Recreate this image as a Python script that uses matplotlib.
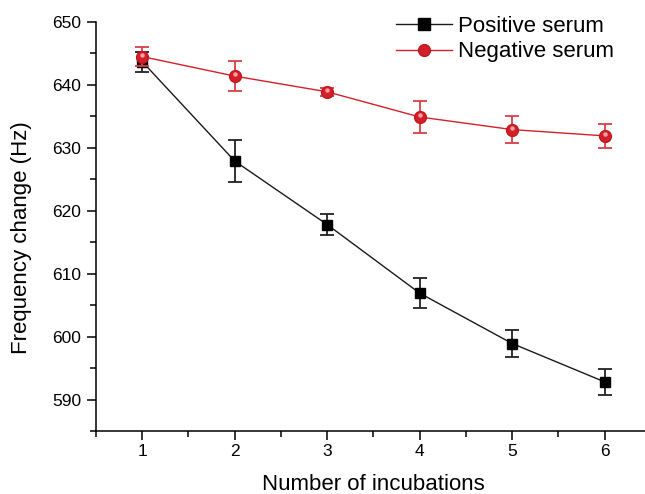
import matplotlib.pyplot as plt
from matplotlib.lines import Line2D
from matplotlib.ticker import MultipleLocator

plt.rcParams['font.family'] = ['Liberation Sans', 'DejaVu Sans']

incubations = [1, 2, 3, 4, 5, 6]
positive = [643.7, 627.9, 617.8, 606.9, 598.9, 592.8]
positive_err = [1.6, 3.4, 1.65, 2.35, 2.15, 2.1]
negative = [644.5, 641.4, 638.9, 634.9, 632.9, 631.9]
negative_err = [1.5, 2.4, 0.6, 2.6, 2.2, 1.9]

red = '#d2202a'

fig = plt.figure(figsize=(6.45, 4.94), dpi=100)
ax = fig.add_axes([0.1488, 0.1275, 0.8605, 0.828])

ax.errorbar(incubations, positive, yerr=positive_err, color='#1a1a1a', linewidth=1,
            marker='s', markersize=7.5, markerfacecolor='black', markeredgecolor='black',
            ecolor='#222222', elinewidth=1.3, capsize=5, capthick=1.3, zorder=3)
ax.errorbar(incubations, negative, yerr=negative_err, color=red, linewidth=1,
            marker='o', markersize=8.5, markerfacecolor=red, markeredgecolor='#c01820',
            ecolor='#d6404a', elinewidth=1.3, capsize=5, capthick=1.3, zorder=4)
# small highlight so the red dots look shaded
ax.plot(incubations, [v + 0.3 for v in negative], linestyle='none', marker='o',
        markersize=3.2, markerfacecolor='#f3a0a4', markeredgecolor='none', zorder=5)

ax.set_xlim(0.5, 6.5)
ax.set_ylim(585, 650)
ax.xaxis.set_major_locator(MultipleLocator(1))
ax.xaxis.set_minor_locator(MultipleLocator(0.5))
ax.yaxis.set_major_locator(MultipleLocator(10))
ax.yaxis.set_minor_locator(MultipleLocator(5))
ax.tick_params(which='major', direction='out', length=6.5, width=1.1, labelsize=12.5)
ax.tick_params(which='minor', direction='out', length=4, width=1.1)
ax.tick_params(axis='x', pad=3)
ax.tick_params(axis='y', pad=4)

for side in ['top', 'right']:
    ax.spines[side].set_visible(False)
for side in ['left', 'bottom']:
    ax.spines[side].set_linewidth(1.1)

ax.set_xlabel('Number of incubations', fontsize=16, labelpad=11)
ax.set_ylabel('Frequency change (Hz)', fontsize=16)
ax.yaxis.set_label_coords(-0.115, 0.474)

handles = [
    Line2D([], [], color='#1a1a1a', linewidth=1, marker='s', markersize=8,
           markerfacecolor='black', markeredgecolor='black'),
    Line2D([], [], color=red, linewidth=1, marker='o', markersize=8.5,
           markerfacecolor=red, markeredgecolor='#c01820'),
]
fig.legend(handles, ['Positive serum', 'Negative serum'], loc='upper left',
           bbox_to_anchor=(396 / 645, 1 - 16 / 494), bbox_transform=fig.transFigure,
           frameon=False, fontsize=16, borderpad=0, borderaxespad=0,
           handlelength=2.5, handletextpad=0.3, labelspacing=0.2)

fig.savefig('out.png', dpi=100)
